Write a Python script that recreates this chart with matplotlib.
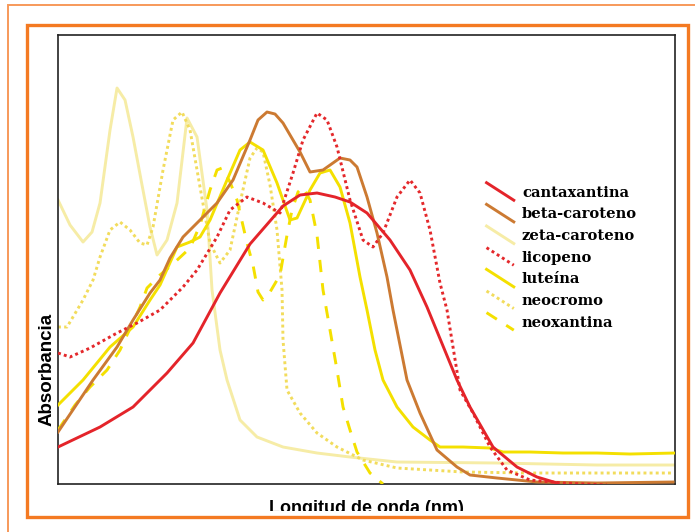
"""Espectros de absorcion de carotenoides."""
import matplotlib
matplotlib.use("Agg")
import matplotlib.pyplot as plt
from matplotlib.lines import Line2D
from matplotlib.legend_handler import HandlerBase
from matplotlib.patches import Rectangle

# longitud de onda (nm) y absorbancia
cantaxantina_x = [300, 321, 337.5, 354.5, 367.5, 381, 396, 412.5, 421, 429.5,
                  438.5, 446, 454.5, 466, 476, 484.5, 499.5, 506, 517.5,
                  529.5, 539.5, 549.5]
cantaxantina_y = [0.0925, 0.1425, 0.1925, 0.2775, 0.3525, 0.4775, 0.6, 0.695,
                  0.7225, 0.7275, 0.7175, 0.705, 0.6775, 0.61, 0.535, 0.4425,
                  0.26, 0.1925, 0.0925, 0.0425, 0.0175, 0.0025]

beta_x = [300, 317.5, 329.5, 337.5, 346, 351, 356, 362.5, 371, 379.5, 387.5,
          396, 400, 404.5, 408.5, 412.5, 421, 426, 432.5, 441, 446, 449.5,
          454.5, 459.5, 464.5, 467.5, 474.5, 481, 489.5, 499.5, 506, 519.5,
          539.5, 569.5, 607.5]
beta_y = [0.13, 0.26, 0.3425, 0.41, 0.4775, 0.51, 0.565, 0.6175, 0.66, 0.7025,
          0.76, 0.86, 0.91, 0.93, 0.925, 0.9025, 0.83, 0.78, 0.785, 0.815,
          0.81, 0.7925, 0.7175, 0.6275, 0.5175, 0.435, 0.26, 0.1775, 0.085,
          0.0425, 0.0225, 0.015, 0.005, 0.0025, 0.005]

zeta_x = [300, 306, 312.5, 317, 321, 326, 329.5, 333.5, 337.5, 342, 346,
          349.5, 354.5, 359.5, 364.5, 369.5, 374.5, 377, 381, 384.5, 391,
          399.5, 412.5, 429.5, 446, 469.5, 519.5, 569.5, 608.5]
zeta_y = [0.71, 0.6475, 0.605, 0.63, 0.7025, 0.885, 0.99, 0.96, 0.8675,
          0.7475, 0.6425, 0.5725, 0.61, 0.7025, 0.915, 0.8675, 0.685, 0.485,
          0.335, 0.26, 0.16, 0.1175, 0.0925, 0.0775, 0.0675, 0.055, 0.0525,
          0.0475, 0.0475]

licopeno_x = [300, 306, 316, 329.5, 339.5, 351, 362.5, 369.5, 379.5, 386,
              394.5, 402.5, 411, 417.5, 422.5, 429.5, 434.5, 439.5, 446,
              452.5, 457.5, 462.5, 469.5, 476, 481, 486, 491, 494.5, 501,
              507.5, 516, 524.5, 536, 552.5, 574.5]
licopeno_y = [0.3275, 0.3175, 0.34, 0.3775, 0.4025, 0.435, 0.4925, 0.535,
              0.6175, 0.685, 0.7175, 0.7025, 0.6775, 0.7775, 0.86, 0.9275,
              0.91, 0.8425, 0.71, 0.61, 0.5925, 0.6275, 0.7175, 0.76, 0.7275,
              0.635, 0.5025, 0.435, 0.235, 0.1775, 0.0925, 0.035, 0.01,
              0.0025, -0.0025]

luteina_x = [300, 312.5, 326, 337.5, 346, 351, 359.5, 366, 371, 376, 384.5,
             391, 396, 402.5, 409.5, 416, 419.5, 426, 431, 436, 441, 446, 451,
             454.5, 458.5, 462.5, 469.5, 477.5, 486, 491, 502.5, 516, 522.5,
             536, 552.5, 569.5, 586, 608.5]
luteina_y = [0.1975, 0.26, 0.3425, 0.3925, 0.46, 0.4975, 0.5925, 0.605,
             0.6175, 0.66, 0.76, 0.835, 0.855, 0.835, 0.7525, 0.66, 0.665,
             0.735, 0.7775, 0.785, 0.7425, 0.6525, 0.5175, 0.435, 0.335, 0.26,
             0.1925, 0.1425, 0.11, 0.0925, 0.0925, 0.09, 0.08, 0.08, 0.0775,
             0.0775, 0.075, 0.0775]

neocromo_x = [300, 304.5, 312.5, 317.5, 321, 326, 331, 336, 341, 344.5,
              347.5, 352.5, 357.5, 362, 366, 371, 376, 381, 386, 391, 396,
              399.5, 402.5, 406, 409.5, 412, 412.5, 414.5, 421, 429.5, 439.5,
              452.5, 469.5, 502.5, 536, 569.5, 607.5]
neocromo_y = [0.3925, 0.3925, 0.46, 0.51, 0.5675, 0.635, 0.655, 0.635,
              0.6025, 0.5975, 0.6425, 0.785, 0.91, 0.93, 0.885, 0.7425,
              0.6025, 0.5525, 0.585, 0.7025, 0.815, 0.84, 0.83, 0.7475, 0.635,
              0.485, 0.36, 0.235, 0.1775, 0.1275, 0.0925, 0.06, 0.04, 0.03,
              0.0275, 0.0275, 0.0275]

neoxantina_x = [300, 308.5, 316, 324.5, 331, 341, 344.5, 351, 358.5, 366,
                371, 376, 379.5, 382, 386, 389.5, 394.5, 397.5, 400, 402.5,
                406, 411, 414.5, 417, 420, 422.5, 426, 429.5, 432.5, 436,
                439.5, 442.5, 446, 449.5, 456, 462.5]
neoxantina_y = [0.135, 0.1975, 0.2425, 0.285, 0.335, 0.4425, 0.49, 0.5225,
                0.555, 0.59, 0.6475, 0.735, 0.785, 0.79, 0.755, 0.71, 0.6025,
                0.5475, 0.48, 0.46, 0.48, 0.5225, 0.6225, 0.685, 0.73, 0.7425,
                0.71, 0.6225, 0.485, 0.385, 0.285, 0.1925, 0.135, 0.08,
                0.0275, 0.0]


class HandlerDiagonal(HandlerBase):
    # las lineas de la leyenda van en diagonal
    def create_artists(self, legend, orig_handle, xdescent, ydescent,
                       width, height, fontsize, trans):
        x0 = -xdescent
        y0 = -ydescent
        line = Line2D([x0, x0 + width], [y0 + height * 1.35, y0 - height * 0.35])
        line.update_from(orig_handle)
        line.set_transform(trans)
        return [line]


fig = plt.figure(figsize=(6.95, 5.32), dpi=100)
ax = fig.add_axes([0.0835, 0.0902, 0.8877, 0.844])

lw = 2.1
ax.plot(zeta_x, zeta_y, color="#f6eca6", lw=lw, label="zeta-caroteno", zorder=2)
ax.plot(neocromo_x, neocromo_y, color="#f2dc5c", lw=lw, ls=(0, (1.0, 1.1)),
        label="neocromo", zorder=2)
ax.plot(neoxantina_x, neoxantina_y, color="#f4e000", lw=lw, ls=(0, (4.2, 3.8)),
        label="neoxantina", zorder=3)
ax.plot(luteina_x, luteina_y, color="#f4e000", lw=lw, label="luteína", zorder=3)
ax.plot(beta_x, beta_y, color="#cc7a32", lw=lw, label="beta-caroteno", zorder=4)
ax.plot(licopeno_x, licopeno_y, color="#e4282b", lw=lw, ls=(0, (1.0, 1.1)),
        label="licopeno", zorder=4)
ax.plot(cantaxantina_x, cantaxantina_y, color="#e4242a", lw=lw,
        label="cantaxantina", zorder=5)

ax.set_xlim(300, 608.5)
ax.set_ylim(0, 1.1225)
ax.set_xticks([])
ax.set_yticks([])
for s in ax.spines.values():
    s.set_linewidth(1.2)
    s.set_color("#222222")

orden = ["cantaxantina", "beta-caroteno", "zeta-caroteno", "licopeno",
         "luteína", "neocromo", "neoxantina"]
lineas = {l.get_label(): l for l in ax.get_lines()}
ax.legend([lineas[n] for n in orden], orden, loc="upper left",
          bbox_to_anchor=(0.681, 0.676), bbox_transform=fig.transFigure,
          frameon=False, handler_map={Line2D: HandlerDiagonal()},
          handlelength=1.85, handletextpad=0.55, labelspacing=0.52,
          prop={"family": "DejaVu Serif", "weight": "bold", "size": 10.6})

fig.text(0.527, 0.035, "Longitud de onda (nm)", ha="center", va="baseline",
         family="Liberation Sans", weight="bold", size=13)
fig.text(0.068, 0.305, "Absorbancia", ha="center", va="center", rotation=90,
         family="Liberation Sans", weight="bold", size=13.5)

# bordes naranjas del recuadro
fig.patches.append(Rectangle((30 / 695, 1 - 530 / 532), 640 / 695, 19 / 532,
                             transform=fig.transFigure, facecolor="white",
                             edgecolor="none", zorder=9))
fig.patches.append(Rectangle((27 / 695, 1 - 517 / 532), 661 / 695, 492 / 532,
                             transform=fig.transFigure, fill=False,
                             edgecolor="#f47a22", lw=2.4, zorder=10))
fig.patches.append(Rectangle((8 / 695, -0.1), 1.2, 1.1 - 5 / 532,
                             transform=fig.transFigure, fill=False,
                             edgecolor="#f7995a", lw=1.4, zorder=10))

fig.savefig("out.png", dpi=100)
